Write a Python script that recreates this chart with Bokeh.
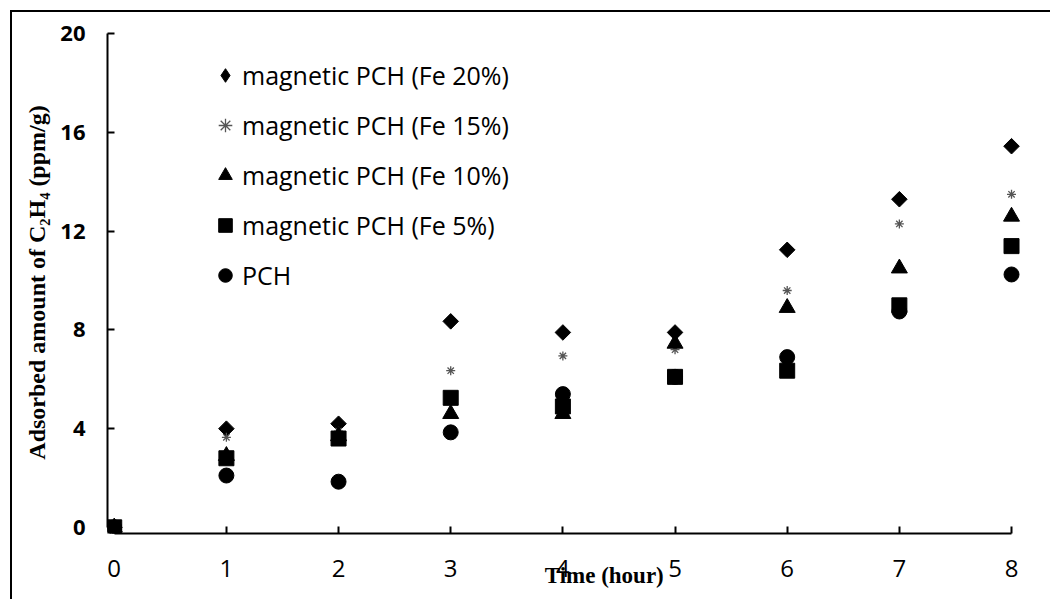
import math
from bokeh.plotting import figure
from bokeh.models import Range1d, FixedTicker, Legend, LegendItem
from bokeh.embed import file_html
from bokeh.resources import INLINE

# ---- data ----
time_h = [0, 1, 2, 3, 4, 5, 6, 7, 8]
fe20 = [0, 4.0, 4.2, 8.35, 7.9, 7.9, 11.25, 13.3, 15.45]
fe15 = [0, 3.65, 3.9, 6.35, 6.95, 7.2, 9.6, 12.3, 13.5]
fe10 = [0, 2.9, 3.7, 4.6, 4.6, 7.45, 8.9, 10.5, 12.6]
fe5 = [0, 2.8, 3.6, 5.25, 4.9, 6.1, 6.35, 9.0, 11.4]
pch = [0, 2.1, 1.85, 3.85, 5.4, 6.1, 6.9, 8.75, 10.25]

series_labels = ["magnetic PCH (Fe 20%)", "magnetic PCH (Fe 15%)",
                 "magnetic PCH (Fe 10%)", "magnetic PCH (Fe 5%)", "PCH"]
x_ticks = [0, 1, 2, 3, 4, 5, 6, 7, 8]
y_ticks = [0, 4, 8, 12, 16, 20]
x_title = "Time (hour)"
y_title = "Adsorbed amount of C\u2082H\u2084 (ppm/g)"

p = figure(width=1040, height=589, output_backend="svg", toolbar_location=None,
           x_range=Range1d(-0.06, 8.08), y_range=Range1d(-0.25, 20.1),
           min_border_left=95, min_border_right=32, min_border_top=19,
           min_border_bottom=68, margin=(10, 0, 0, 10),
           styles={"border-left": "2px solid black", "border-top": "2px solid black"})
p.outline_line_color = None
p.grid.visible = False
p.background_fill_color = "white"
p.border_fill_color = "white"

# axes
for ax in (p.xaxis[0], p.yaxis[0]):
    ax.axis_line_width = 2
    ax.axis_line_color = "black"
    ax.major_tick_line_width = 2
    ax.major_tick_line_color = "black"
    ax.major_tick_in = 7
    ax.major_tick_out = 0
    ax.minor_tick_line_color = None
    ax.major_label_text_font = "Open Sans"
    ax.major_label_text_color = "black"
    ax.axis_label_text_font = "Liberation Serif"
    ax.axis_label_text_font_style = "bold"
    ax.axis_label_text_color = "black"

p.xaxis.ticker = FixedTicker(ticks=x_ticks)
p.xaxis.bounds = (0, 8)
p.xaxis.major_label_text_font_size = "24px"
p.xaxis.major_label_standoff = 26
# the reference title sits right of centre, overlapping the tick labels;
# leading em/en spaces shift the centred label to the right
p.xaxis.axis_label = "\u2003\u2003\u2003\u2002" + x_title
p.xaxis.axis_label_text_font_size = "23px"
p.xaxis.axis_label_standoff = -17

p.yaxis.ticker = FixedTicker(ticks=y_ticks)
p.yaxis.bounds = (0, 20)
p.yaxis.major_label_text_font_size = "22px"
p.yaxis.major_label_standoff = 22
p.yaxis.major_label_text_font_style = "bold"
p.yaxis.axis_label = y_title
p.yaxis.axis_label_text_font_size = "24px"
p.yaxis.axis_label_standoff = 7

# series
r20 = p.scatter(time_h, fe20, marker="square", angle=math.pi / 4, size=11,
                color="black")
r15 = p.scatter(time_h, fe15, marker="asterisk", size=9,
                line_color="#555555", line_width=1.3)
r10 = p.scatter(time_h, fe10, marker="triangle", size=16, color="black")
r5 = p.scatter(time_h, fe5, marker="square", size=15, color="black")
rp = p.scatter(time_h, pch, marker="circle", size=15, color="black")

# legend-only glyph for the diamond (the legend does not rotate markers)
r20_key = p.scatter(x=[float("nan")], y=[float("nan")], marker="diamond",
                    color="black")

legend = Legend(items=[LegendItem(label=l, renderers=[r])
                       for l, r in zip(series_labels, [r20_key, r15, r10, r5, rp])],
                location=(101, 241), orientation="vertical",
                glyph_width=34, glyph_height=34, spacing=16,
                label_standoff=0, padding=0, margin=0,
                border_line_color=None, background_fill_alpha=0,
                label_text_font="Open Sans", label_text_font_size="25px",
                label_text_color="black")
p.add_layout(legend, "center")

open("out.html", "w").write(file_html(p, INLINE))
